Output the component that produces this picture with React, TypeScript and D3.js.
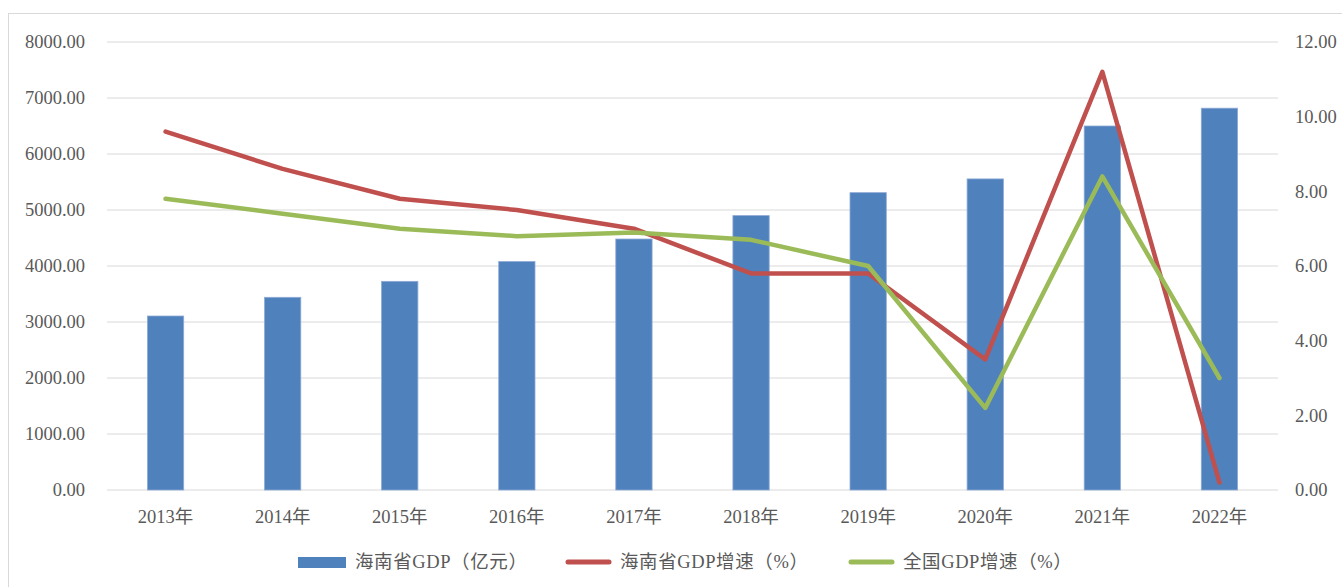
import React from "react";
import * as d3 from "d3";

const categories = ["2013年", "2014年", "2015年", "2016年", "2017年", "2018年", "2019年", "2020年", "2021年", "2022年"];
const gdpValues = [3107, 3441, 3726, 4080, 4482, 4900, 5310, 5555, 6500, 6818];
const hainanGrowth = [9.6, 8.6, 7.8, 7.5, 7.0, 5.8, 5.8, 3.5, 11.2, 0.2];
const nationalGrowth = [7.8, 7.4, 7.0, 6.8, 6.9, 6.7, 6.0, 2.2, 8.4, 3.0];
const leftTicks = [0, 1000, 2000, 3000, 4000, 5000, 6000, 7000, 8000];
const rightTicks = [0, 2, 4, 6, 8, 10, 12];
const seriesNames = ["海南省GDP（亿元）", "海南省GDP增速（%）", "全国GDP增速（%）"];

const W = 1342;
const H = 587;
const FONT = "'Liberation Serif', 'Times New Roman', 'Noto Sans CJK SC', serif";
const TEXT = "#595959";
const BLUE = "#4f81bd";
const RED = "#c0504d";
const GREEN = "#9bbb59";
const FS = 18.5;

export default function App() {
  const left = 107, right = 1278, top = 42, bottom = 490;
  const x = d3.scaleBand<string>().domain(categories).range([left, right]).paddingInner(0.69).paddingOuter(0.345);
  const xc = (c: string) => (x(c) as number) + x.bandwidth() / 2;
  const yL = d3.scaleLinear().domain([0, 8000]).range([bottom, top]);
  const yR = d3.scaleLinear().domain([0, 12]).range([bottom, top]);

  const lineGen = (vals: number[]) =>
    d3.line<number>().x((_, i) => xc(categories[i])).y((v) => yR(v))(vals) as string;

  const legendY = 562;
  const legendItems = [
    { x: 298, tx: 355, color: BLUE, type: "rect", label: seriesNames[0] },
    { x: 565, tx: 620, color: RED, type: "line", label: seriesNames[1] },
    { x: 848, tx: 903, color: GREEN, type: "line", label: seriesNames[2] },
  ];

  return (
    <svg width={W} height={H} style={{ position: "absolute", left: 0, top: 0, display: "block", background: "#fff" }} fontFamily={FONT}>
      <line x1={8} y1={13.5} x2={W} y2={13.5} stroke="#d9d9d9" strokeWidth={1} />
      <line x1={8.5} y1={13} x2={8.5} y2={H} stroke="#d9d9d9" strokeWidth={1} />

      {leftTicks.map((t) => (
        <line key={"g" + t} x1={left} x2={right} y1={yL(t)} y2={yL(t)} stroke="#d9d9d9" strokeWidth={1.2} />
      ))}

      {leftTicks.map((t) => (
        <text key={"l" + t} x={85} y={yL(t)} dy="0.35em" textAnchor="end" fontSize={FS} fill={TEXT}>
          {t.toFixed(2)}
        </text>
      ))}
      {rightTicks.map((t) => (
        <text key={"r" + t} x={1295} y={yR(t)} dy="0.35em" textAnchor="start" fontSize={FS} fill={TEXT}>
          {t.toFixed(2)}
        </text>
      ))}

      {categories.map((c, i) => (
        <rect
          key={"b" + c}
          x={x(c) as number}
          y={yL(gdpValues[i])}
          width={x.bandwidth()}
          height={bottom - yL(gdpValues[i])}
          fill={BLUE}
          stroke="#8eaad6"
          strokeWidth={0.8}
        />
      ))}

      {categories.map((c) => (
        <text key={"x" + c} x={xc(c)} y={517} dy="0.35em" textAnchor="middle" fontSize={FS} fill={TEXT}>
          {c}
        </text>
      ))}

      <path d={lineGen(hainanGrowth)} fill="none" stroke={RED} strokeWidth={4.5} strokeLinejoin="round" strokeLinecap="round" />
      <path d={lineGen(nationalGrowth)} fill="none" stroke={GREEN} strokeWidth={4.5} strokeLinejoin="round" strokeLinecap="round" />

      {legendItems.map((it) => (
        <g key={it.label}>
          {it.type === "rect" ? (
            <rect x={it.x} y={legendY - 5} width={48} height={11} fill={BLUE} />
          ) : (
            <line x1={it.x + 3} x2={it.x + 44} y1={legendY} y2={legendY} stroke={it.color} strokeWidth={5} strokeLinecap="round" />
          )}
          <text x={it.tx} y={legendY} dy="0.35em" fontSize={FS} letterSpacing={0.6} fill={TEXT}>
            {it.label}
          </text>
        </g>
      ))}
    </svg>
  );
}
